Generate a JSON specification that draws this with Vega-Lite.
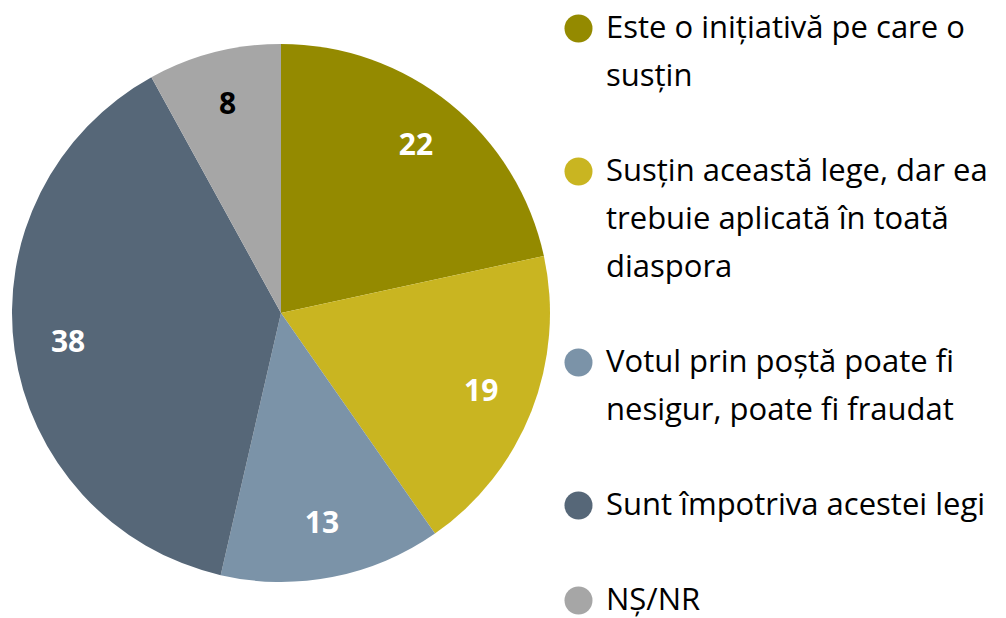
{
  "$schema": "https://vega.github.io/schema/vega-lite/v6.json",
  "width": 562,
  "height": 618,
  "padding": {"left": 0, "top": 4, "right": 0, "bottom": 0},
  "background": "white",
  "config": {
    "view": {"stroke": null},
    "font": "Open Sans",
    "style": {"guide-label": {"lineHeight": 48}}
  },
  "data": {
    "values": [
      {"raspuns": "Este o inițiativă pe care o susțin", "value": 21.6, "ord": 1},
      {"raspuns": "Susțin această lege, dar ea trebuie aplicată în toată diaspora", "value": 18.7, "ord": 2},
      {"raspuns": "Votul prin poștă poate fi nesigur, poate fi fraudat", "value": 13.3, "ord": 3},
      {"raspuns": "Sunt împotriva acestei legi", "value": 38.4, "ord": 4},
      {"raspuns": "NȘ/NR", "value": 8.0, "ord": 5}
    ]
  },
  "encoding": {
    "theta": {"field": "value", "type": "quantitative", "stack": true},
    "order": {"field": "ord", "type": "quantitative"}
  },
  "layer": [
    {
      "mark": {"type": "arc", "outerRadius": 269},
      "encoding": {
        "color": {
          "field": "raspuns",
          "type": "nominal",
          "sort": null,
          "scale": {
            "domain": [
              "Este o inițiativă pe care o susțin",
              "Susțin această lege, dar ea trebuie aplicată în toată diaspora",
              "Votul prin poștă poate fi nesigur, poate fi fraudat",
              "Sunt împotriva acestei legi",
              "NȘ/NR"
            ],
            "range": ["#948A00", "#C9B521", "#7B93A8", "#566778", "#A6A6A6"]
          },
          "legend": {
            "title": null,
            "orient": "none",
            "legendX": 563,
            "legendY": 9,
            "symbolType": "circle",
            "symbolSize": 784,
            "symbolStrokeWidth": 0,
            "symbolOpacity": 1,
            "labelFont": "Open Sans",
            "labelFontSize": 31,
            "labelColor": "black",
            "labelOffset": 12,
            "labelLimit": 600,
            "rowPadding": 63,
            "padding": 0,
            "labelExpr": "datum.value == 'Este o inițiativă pe care o susțin' ? ['Este o inițiativă pe care o', 'susțin'] : datum.value == 'Susțin această lege, dar ea trebuie aplicată în toată diaspora' ? ['Susțin această lege, dar ea', 'trebuie aplicată în toată', 'diaspora'] : datum.value == 'Votul prin poștă poate fi nesigur, poate fi fraudat' ? ['Votul prin poștă poate fi', 'nesigur, poate fi fraudat'] : datum.value",
            "encoding": {"labels": {"update": {"lineHeight": {"value": 48}}}}
          }
        }
      }
    },
    {
      "mark": {"type": "text", "radius": 215, "fontSize": 30, "fontWeight": "bold", "font": "Open Sans"},
      "encoding": {
        "text": {"field": "value", "type": "quantitative", "format": ".0f"},
        "color": {"condition": {"test": "datum.value < 10", "value": "black"}, "value": "white"}
      }
    }
  ]
}
